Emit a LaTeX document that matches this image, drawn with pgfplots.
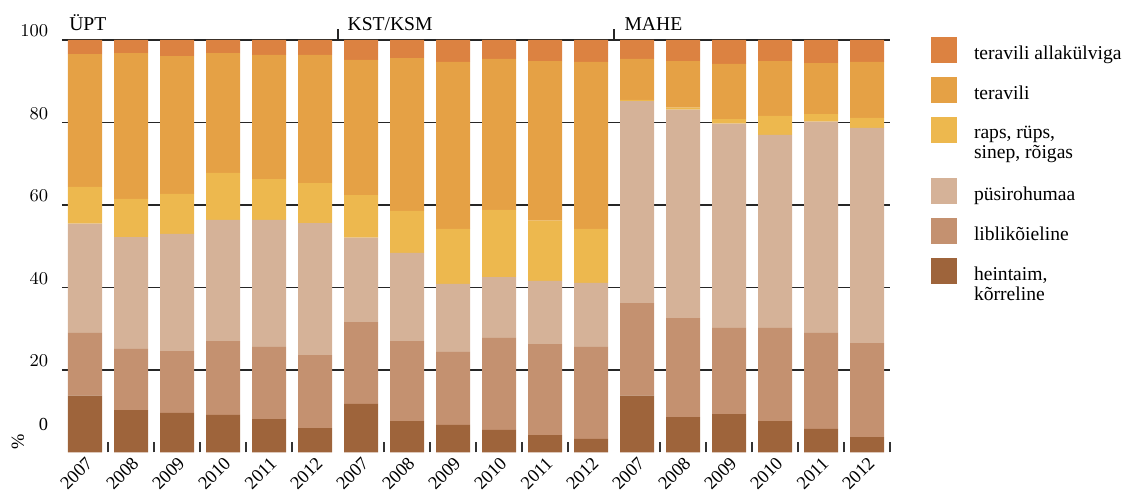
\documentclass[border=0pt]{standalone}
\usepackage{fontspec}
\setmainfont{Liberation Serif}
\usepackage{pgfplots}
\usepackage{pgfplotstable}
\pgfplotsset{compat=1.18}

\definecolor{cA}{RGB}{220,130,65}
\definecolor{cT}{RGB}{229,161,69}
\definecolor{cR}{RGB}{237,184,78}
\definecolor{cP}{RGB}{213,178,152}
\definecolor{cL}{RGB}{196,145,112}
\definecolor{cH}{RGB}{158,100,59}

\pgfplotstableread{
x  h    l    p    r    t    a
0  13.8 15.2 26.5 8.9  32.2 3.4
1  10.3 14.8 27.1 9.3  35.3 3.2
2  9.6  15.0 28.4 9.7  33.4 3.9
3  9.1  17.9 29.4 11.4 29.0 3.2
4  8.1  17.5 30.8 9.9  30.1 3.6
5  5.9  17.7 32.0 9.7  31.1 3.6
6  11.8 19.8 20.5 10.3 32.8 4.8
7  7.6  19.4 21.4 10.2 37.0 4.4
8  6.7  17.7 16.5 13.3 40.5 5.3
9  5.5  22.3 14.7 16.3 36.6 4.6
10 4.2  22.1 15.3 14.6 38.7 5.1
11 3.3  22.3 15.5 13.1 40.5 5.3
12 13.8 22.4 49.0 0.3  9.9  4.6
13 8.6  24.0 50.5 0.5  11.3 5.1
14 9.3  20.9 49.5 1.1  13.4 5.8
15 7.6  22.6 46.8 4.6  13.3 5.1
16 5.7  23.3 51.2 1.8  12.4 5.6
17 3.7  22.8 52.2 2.4  13.6 5.3
}\data

\newcommand{\lf}{\fontsize{9.8}{10}\selectfont}
\newcommand{\tf}{\fontsize{9.2}{10}\selectfont}

\begin{document}
\begin{tikzpicture}[font=\lf]
\begin{axis}[
  at={(0,0)}, anchor=south west,
  scale only axis, width=414pt, height=206.25pt,
  xmin=-0.5, xmax=17.5, ymin=0, ymax=100,
  ybar stacked, bar width=17pt,
  axis line style={draw=none},
  clip=false,
  xtick={0,...,17},
  xticklabels={2007,2008,2009,2010,2011,2012,2007,2008,2009,2010,2011,2012,2007,2008,2009,2010,2011,2012},
  xticklabel style={rotate=45, anchor=north east, inner sep=1pt, font=\tf},
  minor xtick={0.5,1.5,2.5,3.5,4.5,6.5,7.5,8.5,9.5,10.5,12.5,13.5,14.5,15.5,16.5,17.5},
  xtick pos=left, ytick pos=left,
  major tick length=0pt, minor tick length=5pt,
  minor tick style={black!80, line width=0.6pt},
  ytick={20,40,60,80,100},
  ymajorgrids, grid style={black!85, line width=0.6pt},
  extra y ticks={4.5}, extra y tick labels={0},
  extra y tick style={grid=none},
  yticklabel style={anchor=east, xshift=-3.4pt, yshift=4.5pt, font=\tf},
  reverse legend,
  legend image code/.code={\fill[#1] (0pt,-4.35pt) rectangle (13pt,8.65pt);},
  legend style={draw=none, fill=none, at={(1,1)}, anchor=north west,
    xshift=20.5pt, yshift=1.5pt, inner sep=0pt, outer sep=0pt,
    row sep=5.2pt, column sep=6.5pt, cells={anchor=west},
    font=\lf},
]
\addplot[fill=cH, draw=none, legend image code/.code={\fill[cH] (0pt,-4.35pt) rectangle (13pt,8.65pt); \path (0pt,-13.5pt);}] table[x=x, y=h]{\data};
\addlegendentry{\vtop{\hbox{heintaim,}\hbox{kõrreline}}}
\addplot[fill=cL, draw=none] table[x=x, y=l]{\data};
\addlegendentry{liblikõieline}
\addplot[fill=cP, draw=none] table[x=x, y=p]{\data};
\addlegendentry{püsirohumaa}
\addplot[fill=cR, draw=none, legend image code/.code={\fill[cR] (0pt,-4.35pt) rectangle (13pt,8.65pt); \path (0pt,-16.5pt);}] table[x=x, y=r]{\data};
\addlegendentry{\vtop{\hbox{raps, rüps,}\hbox{sinep, rõigas}}}
\addplot[fill=cT, draw=none] table[x=x, y=t]{\data};
\addlegendentry{teravili}
\addplot[fill=cA, draw=none] table[x=x, y=a]{\data};
\addlegendentry{teravili allakülviga}

\draw[black!85, line width=0.6pt] (axis cs:5.5,100) -- ++(0pt,5.5pt);
\draw[black!85, line width=0.6pt] (axis cs:11.5,100) -- ++(0pt,5.5pt);
\node[anchor=base west, inner sep=0pt] at ([yshift=4.7pt]axis cs:-0.35,100) {ÜPT};
\node[anchor=base west, inner sep=0pt] at ([yshift=4.7pt]axis cs:5.7,100) {KST/KSM};
\node[anchor=base west, inner sep=0pt] at ([yshift=4.7pt]axis cs:11.72,100) {MAHE};
\node[rotate=90, inner sep=0pt, font=\tf] at ([xshift=-22pt, yshift=5.25pt]axis cs:-0.5,0) {\%};
\end{axis}
\pgfresetboundingbox
\path[use as bounding box] (-31pt,-19.25pt) rectangle (531pt,226.25pt);
\end{tikzpicture}
\end{document}
